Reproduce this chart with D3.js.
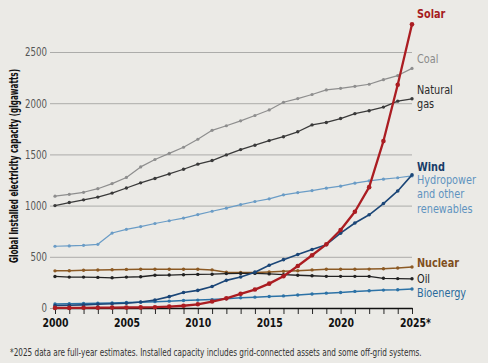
<!DOCTYPE html>
<html>
<head>
<meta charset="utf-8">
<script src="https://cdn.jsdelivr.net/npm/d3@7/dist/d3.min.js"></script>
<style>
body { margin: 0; background: #ebeae6; }
svg { display: block; }
text { font-family: "Liberation Sans Narrow", "DejaVu Sans Condensed", "Roboto Condensed", sans-serif; }
</style>
</head>
<body>
<svg id="chart" width="488" height="363"></svg>
<script>
// years on the x axis
var years = d3.range(2000, 2026);

// installed capacity, GW
var solar   = [1, 1, 2, 3, 4, 5, 6, 8, 14, 22, 36, 63, 94, 138, 180, 238, 310, 410, 515, 622, 762, 940, 1180, 1630, 2180, 2770];
var coal    = [1092, 1110, 1130, 1165, 1215, 1275, 1378, 1450, 1510, 1570, 1648, 1735, 1780, 1828, 1880, 1934, 2009, 2045, 2085, 2130, 2145, 2165, 2185, 2230, 2270, 2340];
var gas     = [1000, 1030, 1056, 1083, 1122, 1172, 1222, 1265, 1309, 1355, 1405, 1440, 1495, 1547, 1590, 1635, 1673, 1721, 1788, 1812, 1850, 1898, 1927, 1962, 2020, 2043];
var wind    = [24, 27, 31, 36, 41, 47, 58, 78, 111, 151, 172, 210, 270, 303, 350, 418, 472, 522, 572, 618, 731, 830, 910, 1020, 1143, 1300];
var hydro   = [603, 606, 612, 622, 732, 768, 795, 825, 852, 878, 912, 945, 975, 1010, 1040, 1066, 1105, 1127, 1147, 1170, 1190, 1219, 1242, 1258, 1272, 1290];
var nuclear = [363, 364, 368, 371, 374, 377, 378, 378, 378, 378, 378, 372, 350, 346, 347, 352, 358, 364, 372, 378, 378, 378, 380, 384, 390, 400];
var oil     = [308, 302, 302, 299, 295, 302, 305, 320, 322, 325, 328, 330, 336, 338, 338, 333, 325, 320, 315, 309, 309, 309, 309, 290, 287, 285];
var bio     = [40, 42, 44, 46, 49, 53, 57, 62, 67, 73, 77, 82, 90, 100, 106, 112, 118, 127, 136, 145, 152, 162, 169, 175, 178, 185];

var yTicks = [0, 500, 1000, 1500, 2000, 2500];
var xLabelYears = [2000, 2005, 2010, 2015, 2020, 2025];

var footnote = "*2025 data are full-year estimates. Installed capacity includes grid-connected assets and some off-grid systems.";
var yTitle = "Global installed electricity capacity (gigawatts)";

// series drawing order (solar on top)
var series = [
	{ key: "coal",    values: coal,    color: "#8e8e8e", text: "#8a8a8a", lines: ["Coal"], bold: false, w: 1.2, r: 1.6, dy: [-10] },
	{ key: "gas",     values: gas,     color: "#3a3a3a", text: "#2b2b2b", lines: ["Natural", "gas"], bold: false, w: 1.3, r: 1.7, dy: [-9, 5] },
	{ key: "hydro",   values: hydro,   color: "#6a9cc6", text: "#5f93bf", lines: ["Hydropower", "and other", "renewables"], bold: false, w: 1.2, r: 1.6, dy: [4, 18.2, 32.4] },
	{ key: "nuclear", values: nuclear, color: "#8c5a24", text: "#7f4f1d", lines: ["Nuclear"], bold: true, w: 1.5, r: 1.7, dy: [-4] },
	{ key: "oil",     values: oil,     color: "#222222", text: "#1a1a1a", lines: ["Oil"], bold: false, w: 1.3, r: 1.7, dy: [-0.5] },
	{ key: "bio",     values: bio,     color: "#2c72a6", text: "#2a6a9c", lines: ["Bioenergy"], bold: false, w: 1.5, r: 1.7, dy: [4] },
	{ key: "wind",    values: wind,    color: "#1b4677", text: "#173c68", lines: ["Wind"], bold: true, w: 1.6, r: 1.8, dy: [-8.5] },
	{ key: "solar",   values: solar,   color: "#ab1d22", text: "#a61c21", lines: ["Solar"], bold: true, w: 2.3, r: 2.3, dy: [-11] }
];

var svg = d3.select("#chart");

var x = d3.scaleLinear().domain([2000, 2025]).range([55, 412]);
var y = d3.scaleLinear().domain([0, 2500]).range([308, 52]);

// squeeze a text horizontally so it takes the given width (printed font is condensed)
function squeezeTo(node, target) {
	var w = node.getComputedTextLength();
	return w > 0 ? target / w : 1;
}

// gridlines + left tick labels
var yAxis = d3.axisLeft(y)
	.tickValues(yTicks)
	.tickSize(-(412 - 50))
	.tickPadding(3)
	.tickFormat(d3.format("d"));

var gy = svg.append("g")
	.attr("transform", "translate(50,0)")
	.call(yAxis);
gy.select(".domain").remove();
gy.selectAll(".tick line")
	.attr("stroke", "#9c9c9a")
	.attr("stroke-width", 0.8);
gy.selectAll(".tick text")
	.attr("fill", "#555")
	.style("font-size", "12px");
var kY = squeezeTo(gy.selectAll(".tick text").filter(function (d) { return d === 2500; }).node(), 22);
gy.selectAll(".tick text")
	.attr("x", null)
	.attr("transform", "translate(-3,0) scale(" + kY + ",1)");

// y title
var title = svg.append("text")
	.attr("text-anchor", "middle")
	.style("font-size", "12px")
	.style("font-weight", "bold")
	.attr("fill", "#111")
	.text(yTitle);
var kT = squeezeTo(title.node(), 194);
title.attr("transform", "translate(18,166) rotate(-90) scale(" + kT + ",1)");

// x axis with a tick every year
var xAxis = d3.axisBottom(x)
	.tickValues(years)
	.tickSize(6)
	.tickSizeOuter(0)
	.tickPadding(5)
	.tickFormat(function (d) {
		if (xLabelYears.indexOf(d) < 0) return "";
		return d === 2025 ? "2025*" : d;
	});

var gx = svg.append("g")
	.attr("transform", "translate(0,308)")
	.call(xAxis);
gx.select(".domain").attr("stroke", "#111").attr("stroke-width", 1.6);
gx.selectAll(".tick line").attr("stroke", "#111").attr("stroke-width", 0.9);
gx.selectAll(".tick text")
	.attr("fill", "#111")
	.style("font-size", "13px")
	.style("font-weight", "bold");
var kX = squeezeTo(gx.selectAll(".tick text").filter(function (d) { return d === 2000; }).node(), 26);
gx.selectAll(".tick text")
	.attr("y", null)
	.attr("dy", "0.71em")
	.attr("transform", function (d) {
		return "translate(" + (d === 2025 ? 3 : 0) + ",10) scale(" + kX + ",1)";
	});

// lines and markers
var line = d3.line()
	.x(function (d, i) { return x(years[i]); })
	.y(function (d) { return y(d); });

series.forEach(function (s) {
	var g = svg.append("g").attr("class", "series-" + s.key);

	g.append("path")
		.datum(s.values)
		.attr("fill", "none")
		.attr("stroke", s.color)
		.attr("stroke-width", s.w)
		.attr("stroke-linejoin", "round")
		.attr("d", line);

	g.selectAll("circle")
		.data(s.values)
		.enter().append("circle")
		.attr("cx", function (d, i) { return x(years[i]); })
		.attr("cy", function (d) { return y(d); })
		.attr("r", s.r)
		.attr("fill", s.color);
});

// end labels, condensed like the print
series.forEach(function (s) {
	var last = s.values[s.values.length - 1];
	s.lines.forEach(function (ln, i) {
		svg.append("text")
			.attr("transform", "translate(417," + (y(last) + s.dy[i] + 4.2) + ") scale(0.9,1)")
			.attr("fill", s.text)
			.style("font-size", "12px")
			.style("font-weight", s.bold ? "bold" : "normal")
			.text(ln);
	});
});

// footnote
var foot = svg.append("text")
	.attr("fill", "#333")
	.style("font-size", "10.5px")
	.text(footnote);
var kF = squeezeTo(foot.node(), 412);
foot.attr("transform", "translate(10,356) scale(" + kF + ",1)");
</script>
</body>
</html>
